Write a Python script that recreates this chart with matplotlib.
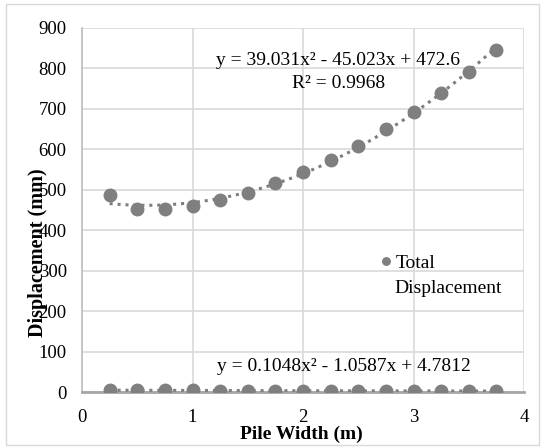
import numpy as np
import matplotlib.pyplot as plt
from matplotlib.patches import Rectangle

plt.rcParams['font.family'] = ['Liberation Serif', 'DejaVu Serif']

# data
pile_width = [0.25, 0.5, 0.75, 1.0, 1.25, 1.5, 1.75, 2.0, 2.25, 2.5, 2.75, 3.0, 3.25, 3.5, 3.75]
total_disp = [487, 452, 452, 460, 475, 493, 516, 543, 574, 609, 650, 692, 740, 792, 846]
other_disp = [4.5, 4.3, 4.1, 3.8, 3.6, 3.4, 3.3, 3.1, 2.9, 2.8, 2.7, 2.6, 2.5, 2.4, 2.3]

gray = '#7f7f7f'

fig = plt.figure(figsize=(5.42, 4.48), dpi=100)
ax = fig.add_axes([82 / 542, 1 - 392 / 448, (524 - 82) / 542, (392 - 28) / 448])

# outer chart frame
fig.patches.append(Rectangle((6 / 542, 3 / 448), 533 / 542, 441 / 448, transform=fig.transFigure,
                             fill=False, edgecolor='#d9d9d9', linewidth=1))

x = np.array(pile_width)
xs = np.linspace(x.min(), x.max(), 200)
for ys in (total_disp, other_disp):
    c = np.polyfit(x, ys, 2)
    ax.plot(xs, np.polyval(c, xs), color=gray, linestyle=(0, (1, 1.6)), linewidth=2.2, zorder=3)

ax.plot(pile_width, total_disp, 'o', color=gray, markersize=9, label='Total', zorder=4)
ax.plot(pile_width, other_disp, 'o', color=gray, markersize=9, zorder=4)

ax.set_xlim(0, 4)
ax.set_ylim(0, 900)
ax.set_xticks([0, 1, 2, 3, 4])
ax.set_yticks(range(0, 901, 100))
ax.grid(True, color='#d9d9d9', linewidth=1.2)
ax.set_axisbelow(True)
for s in ('top', 'right'):
    ax.spines[s].set_visible(False)
ax.spines['left'].set_color('#bfbfbf')
ax.spines['left'].set_linewidth(1.2)
ax.spines['bottom'].set_color('#a6a6a6')
ax.spines['bottom'].set_linewidth(2)
ax.tick_params(length=0, labelsize=13.5)
ax.tick_params(axis='x', pad=12)
ax.tick_params(axis='y', pad=11)

ax.text(2.32, 808, 'y = 39.031x² - 45.023x + 472.6', ha='center', va='baseline', fontsize=14)
ax.text(2.32, 752, 'R² = 0.9968', ha='center', va='baseline', fontsize=14)
ax.text(2.37, 52, 'y = 0.1048x² - 1.0587x + 4.7812', ha='center', va='baseline', fontsize=14)

leg = ax.legend(loc='center left', bbox_to_anchor=(2.71 / 4, 1 - (263 - 28) / 364), frameon=False,
                fontsize=14, handlelength=0.5, handletextpad=0.25, markerscale=0.6, borderaxespad=0,
                borderpad=0)
ax.text(2.83, (392 - 293) / 0.4044, 'Displacement', ha='left', va='baseline', fontsize=14)

fig.text(38 / 542, 1 - 253 / 448, 'Displacement (mm)', rotation=90, ha='center', va='center',
         fontsize=14.5, fontweight='bold')
fig.text(301 / 542, 1 - 439 / 448, 'Pile Width (m)', ha='center', va='baseline',
         fontsize=14, fontweight='bold')

fig.savefig('out.png', dpi=100)
